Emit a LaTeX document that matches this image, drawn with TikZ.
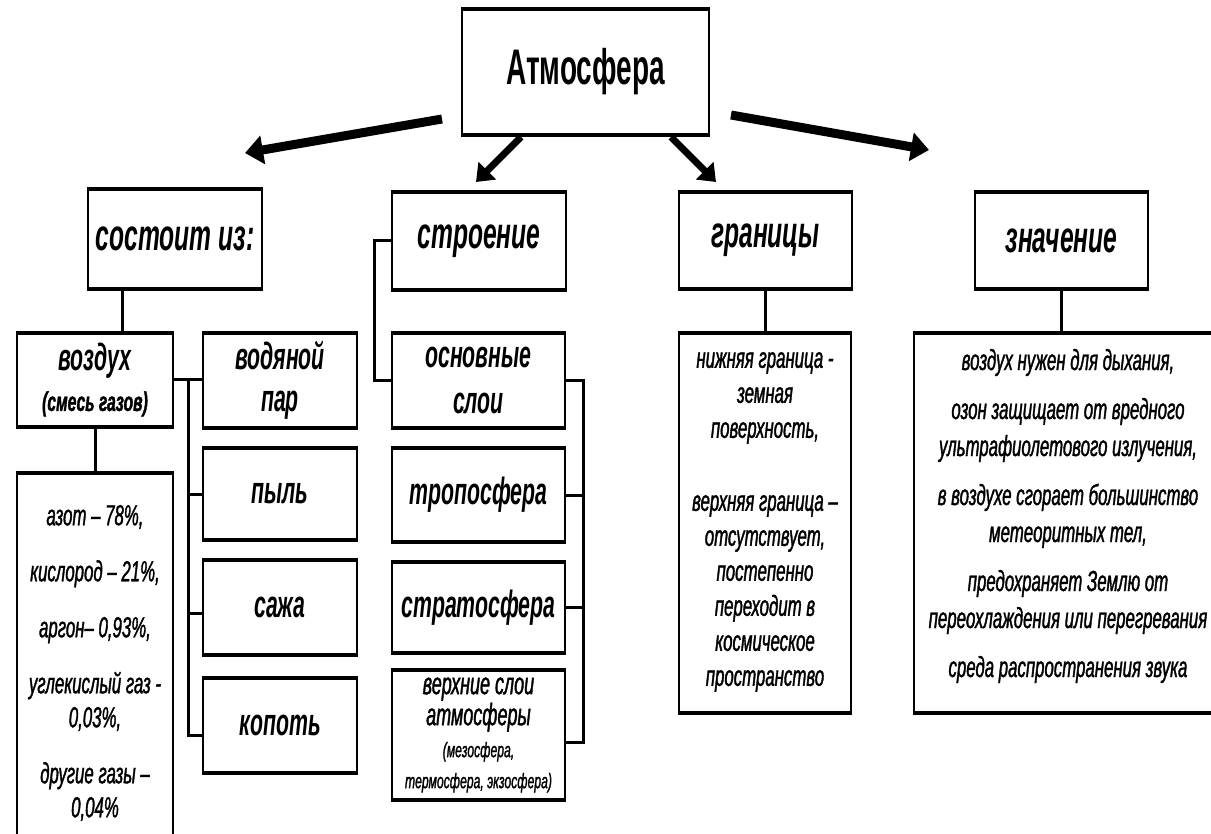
\documentclass[tikz,border=0pt]{standalone}
\usepackage{fontspec}
\setmainfont{Liberation Sans}
\newfontfamily\cf[FakeStretch=0.56]{Liberation Sans}
\newfontfamily\cfb[FakeStretch=0.58,FakeBold=1.2]{Liberation Sans}
\usetikzlibrary{arrows.meta}
\begin{document}
\begin{tikzpicture}[x=1pt,y=-1pt,
  bx/.style={draw, line width=1.6pt, inner sep=0pt, outer sep=0pt, align=center,
    append after command={(\tikzlastnode.north west) edge[line width=4pt, shorten <=-0.8pt, shorten >=-0.8pt] (\tikzlastnode.north east)
      (\tikzlastnode.south west) edge[line width=4pt, shorten <=-0.8pt, shorten >=-0.8pt] (\tikzlastnode.south east)}},
  atmf/.style={font=\cf\bfseries\fontsize{50}{55}\selectfont},
  hd/.style={font=\cf\bfseries\itshape\fontsize{44}{50}\selectfont},
  sub/.style={font=\cf\bfseries\itshape\fontsize{38}{42}\selectfont},
  tx/.style={align=center, inner sep=0pt, font=\cfb\itshape\fontsize{29}{35}\selectfont},
  ln/.style={line width=3pt},
  arw/.style={line width=9pt, -{Triangle[length=18pt,width=28pt]}},
  arn/.style={line width=7pt, -{Triangle[length=16pt,width=24pt]}},
]
\useasboundingbox (0,0) rectangle (1211,834);
\fill[white] (0,0) rectangle (1211,834);
\clip (0,0) rectangle (1211,834);

% top
\node[bx, atmf, minimum width=247pt, minimum height=126pt] (atm) at (585.5,72) {Атмосфера};

% headings
\node[bx, hd, minimum width=174pt, minimum height=100pt] (sost) at (175,239) {состоит из:};
\node[bx, hd, minimum width=174pt, minimum height=98pt] (stro) at (479,241) {строение};
\node[bx, hd, minimum width=173pt, minimum height=97pt] (gran) at (765.5,240.5) {границы};
\node[bx, hd, minimum width=173pt, minimum height=97pt] (znach) at (1061.5,240.5) {значение};

% arrows
\coordinate (a1s) at (442,119); \coordinate (a1e) at (245,153);
\coordinate (a2s) at (521,137); \coordinate (a2e) at (476,182);
\coordinate (a3s) at (671,137); \coordinate (a3e) at (716,182);
\coordinate (a4s) at (731,115); \coordinate (a4e) at (929,150);
\draw[arw] (a1s) -- (a1e);
\draw[arn] (a2s) -- (a2e);
\draw[arn] (a3s) -- (a3e);
\draw[arw] (a4s) -- (a4e);

% composition column
\node[bx, sub, minimum width=156pt, minimum height=94pt] (vozd) at (95,380)
  {воздух\\[-2pt]\cfb\itshape\fontsize{27}{30}\selectfont (смесь газов)};
\node[bx, sub, minimum width=154pt, minimum height=95pt] (vod) at (280,380.5) {водяной\\ пар};
\node[bx, sub, minimum width=154pt, minimum height=92pt] (pyl) at (280,494) {пыль};
\node[bx, sub, minimum width=154pt, minimum height=95pt] (saj) at (280,607.5) {сажа};
\node[bx, sub, minimum width=154pt, minimum height=95pt] (kop) at (280,725.5) {копоть};
\node[bx, minimum width=156pt, minimum height=367pt] (gas) at (95,656.5) {};
\node[tx, font=\cfb\itshape\fontsize{29}{34}\selectfont] (gastx) at (95,663)
  {азот – 78\%,\\[22pt] кислород – 21\%,\\[22pt] аргон– 0,93\%,\\[22pt] углекислый газ -\\ 0,03\%,\\[22pt] другие газы –\\ 0,04\%};

% structure column
\node[bx, sub, minimum width=173pt, minimum height=95pt, font=\cf\bfseries\itshape\fontsize{38}{46}\selectfont] (osn) at (478.5,380.5) {основные\\ слои};
\node[bx, sub, minimum width=173pt, minimum height=94pt] (tro) at (478.5,495) {тропосфера};
\node[bx, sub, minimum width=173pt, minimum height=91pt] (str) at (478.5,607.5) {стратосфера};
\node[bx, minimum width=173pt, minimum height=130pt, font=\cfb\itshape\fontsize{31}{31}\selectfont] (ver) at (478.5,735)
  {верхние слои\\ атмосферы\\[1pt] \fontsize{21}{27}\selectfont (мезосфера,\\ \fontsize{21}{27}\selectfont термосфера, экзосфера)};

% boundaries and meaning
\node[bx, minimum width=172pt, minimum height=380pt] (grt) at (765,523) {};
\node[tx] (grttx) at (765,522)
  {нижняя граница -\\ земная\\ поверхность,\\[38pt] верхняя граница –\\ отсутствует,\\ постепенно\\ переходит в\\ космическое\\ пространство};
\node[bx, minimum width=301pt, minimum height=380pt] (znt) at (1064.5,523) {};
\node[tx, font=\cfb\itshape\fontsize{29}{37}\selectfont] (znttx) at (1068,516)
  {воздух нужен для дыхания,\\[12pt] озон защищает от вредного\\ ультрафиолетового излучения,\\[12pt] в воздухе сгорает большинство\\ метеоритных тел,\\[12pt] предохраняет Землю от\\ переохлаждения или перегревания\\[12pt] среда распространения звука};

% connectors
\draw[ln] ([xshift=34pt]sost.south west) -- ([xshift=34pt]sost.south west |- vozd.north);
\draw[ln] (vozd.south) -- (gas.north);
\coordinate (b1) at ([xshift=15pt]vozd.east);
\coordinate (sajw) at ([yshift=-5.5pt]saj.west);
\coordinate (kopw) at ([yshift=-9.5pt]kop.west);
\draw[ln] (vozd.east) -- (vozd.east -| vod.west);
\draw[ln] (b1) |- (kopw);
\draw[ln] (b1 |- pyl.west) -- (pyl.west);
\draw[ln] (b1 |- sajw) -- (sajw);

\coordinate (b2) at ([xshift=-18pt]stro.west);
\draw[ln] (stro.west) -- (b2) |- (osn.west);
\coordinate (b3) at ([xshift=18pt]osn.east);
\coordinate (verw) at ([yshift=-7pt]ver.east);
\draw[ln] (osn.east) -- (b3) |- (verw);
\draw[ln] (b3 |- tro.east) -- (tro.east);
\draw[ln] (b3 |- str.east) -- (str.east);

\draw[ln] (gran.south) -- (gran.south |- grt.north);
\draw[ln] (znach.south) -- (znach.south |- znt.north);
\end{tikzpicture}
\end{document}
